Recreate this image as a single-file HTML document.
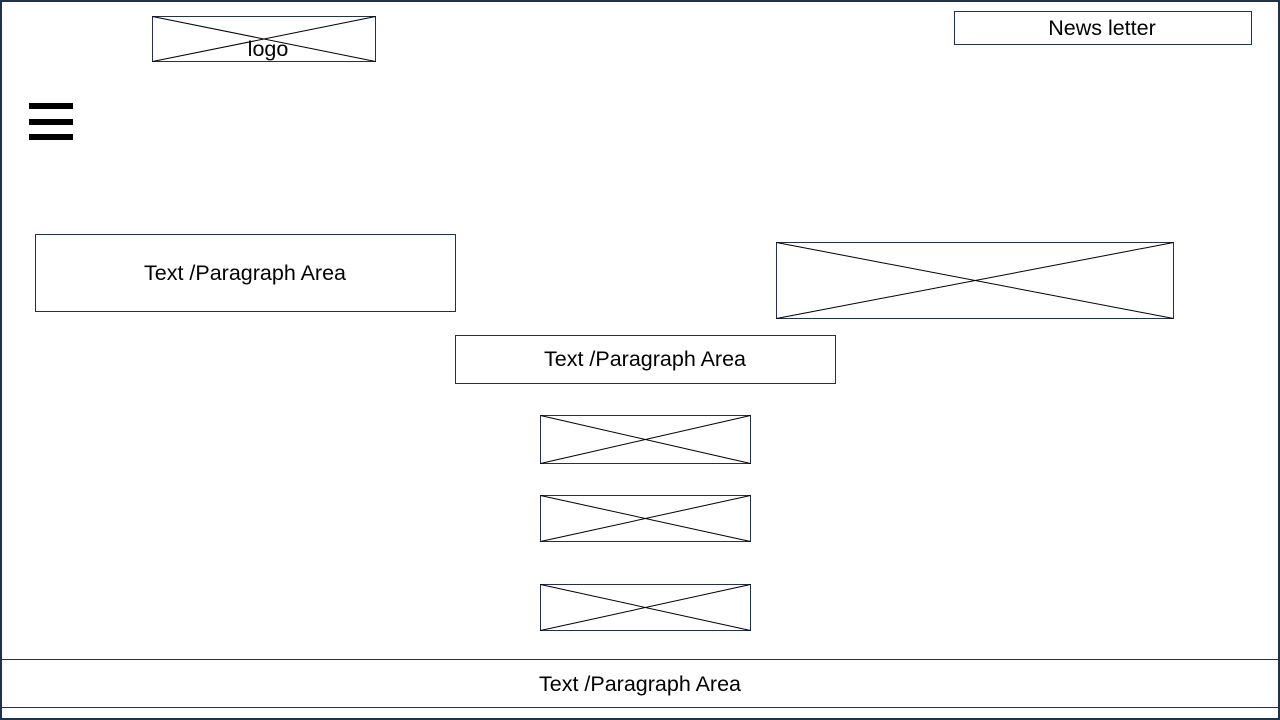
<!DOCTYPE html>
<html><head><meta charset="utf-8"><style>
html,body{margin:0;padding:0;background:#fff;}
svg{display:block;}
text{font-family:"Liberation Sans",sans-serif;fill:#000;}
</style></head><body>
<svg width="1280" height="720" viewBox="0 0 1280 720" xmlns="http://www.w3.org/2000/svg">
<rect x="1" y="1" width="1278" height="718" fill="#fff" stroke="#1f3050" stroke-width="2"/>
<g stroke="#1f3050" stroke-width="1" fill="none">
<rect x="152.5" y="16.5" width="223" height="45"/>
<rect x="954.5" y="11.5" width="297" height="33"/>
<rect x="35.5" y="234.5" width="420" height="77"/>
<rect x="776.5" y="242.5" width="397" height="76"/>
<rect x="455.5" y="335.5" width="380" height="48"/>
<rect x="540.5" y="415.5" width="210" height="48"/>
<rect x="540.5" y="495.5" width="210" height="46"/>
<rect x="540.5" y="584.5" width="210" height="46"/>
<line x1="0" y1="659.5" x2="1280" y2="659.5"/>
<line x1="0" y1="707.5" x2="1280" y2="707.5"/>
</g>
<g stroke="#000" stroke-width="1" fill="none">
<line x1="152.5" y1="16.5" x2="375.5" y2="61.5"/><line x1="152.5" y1="61.5" x2="375.5" y2="16.5"/>
<line x1="776.5" y1="242.5" x2="1173.5" y2="318.5"/><line x1="776.5" y1="318.5" x2="1173.5" y2="242.5"/>
<line x1="540.5" y1="415.5" x2="750.5" y2="463.5"/><line x1="540.5" y1="463.5" x2="750.5" y2="415.5"/>
<line x1="540.5" y1="495.5" x2="750.5" y2="541.5"/><line x1="540.5" y1="541.5" x2="750.5" y2="495.5"/>
<line x1="540.5" y1="584.5" x2="750.5" y2="630.5"/><line x1="540.5" y1="630.5" x2="750.5" y2="584.5"/>
</g>
<rect x="29" y="103" width="44" height="6" fill="#000"/>
<rect x="29" y="119" width="44" height="6" fill="#000"/>
<rect x="29" y="134" width="44" height="6" fill="#000"/>
<text x="268" y="56" font-size="21.5" text-anchor="middle">logo</text>
<text x="1102" y="35" font-size="21.5" text-anchor="middle">News letter</text>
<text x="245" y="280" font-size="21.5" text-anchor="middle">Text /Paragraph Area</text>
<text x="645" y="366" font-size="21.5" text-anchor="middle">Text /Paragraph Area</text>
<text x="640" y="691" font-size="21.5" text-anchor="middle">Text /Paragraph Area</text>
</svg>
</body></html>
